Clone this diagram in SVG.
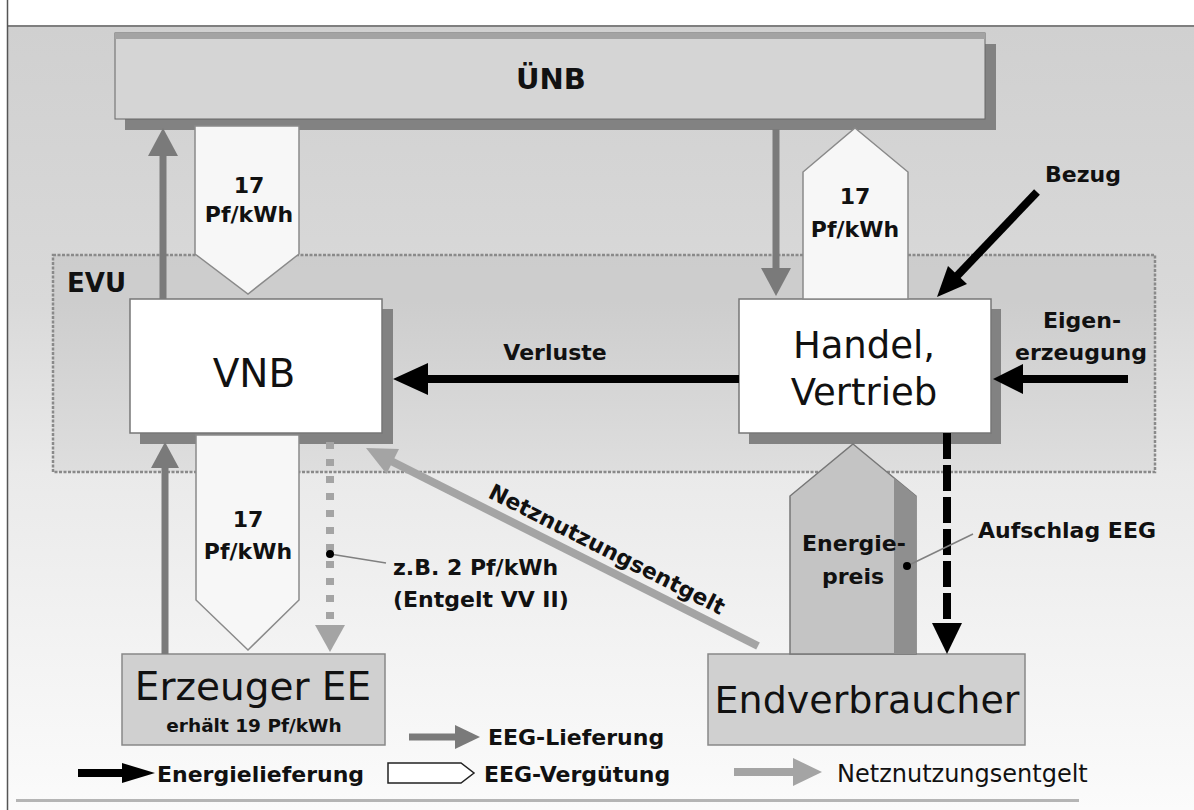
<svg xmlns="http://www.w3.org/2000/svg" width="1194" height="810" viewBox="0 0 1194 810">
<defs>
<linearGradient id="bg" x1="0" y1="27" x2="0" y2="810" gradientUnits="userSpaceOnUse">
<stop offset="0" stop-color="#d0d0d0"/>
<stop offset="0.35" stop-color="#d9d9d9"/>
<stop offset="0.57" stop-color="#eaeaea"/>
<stop offset="1" stop-color="#fbfbfb"/>
</linearGradient>
<style>
text{font-family:'DejaVu Sans','Liberation Sans',sans-serif;fill:#111}
.b{font-weight:bold}
.lbl{font-size:22px;font-weight:bold}
.mid{text-anchor:middle}
.shadow{fill:#828282}
.box{fill:#fff;stroke:#777;stroke-width:1.5}
.gbox{fill:#d0d0d0;stroke:#888;stroke-width:1.5}
.eeg{stroke:#7a7a7a;stroke-width:7;fill:none}
.eegh{fill:#7a7a7a}
.en{stroke:#000;stroke-width:8;fill:none}
.enh{fill:#000}
.nn{stroke:#a4a4a4;stroke-width:8;fill:none}
.nnh{fill:#a4a4a4}
.pent{fill:#f7f7f7;stroke:#8a8a8a;stroke-width:1.5}
.lead{stroke:#808080;stroke-width:1.5;fill:none}
</style>
</defs>
<rect width="1194" height="810" fill="#fff"/>
<rect x="8" y="27" width="1186" height="783" fill="url(#bg)"/>
<line x1="7.5" y1="0" x2="7.5" y2="810" stroke="#555" stroke-width="1.5"/>
<line x1="7" y1="26" x2="1194" y2="26" stroke="#555" stroke-width="1.5"/>
<line x1="16" y1="800.5" x2="1079" y2="800.5" stroke="#b5b5b5" stroke-width="3"/>

<g id="evu">
<rect x="53" y="255" width="1102" height="217" fill="#000" fill-opacity="0.05" stroke="#8a8a8a" stroke-width="2.5" stroke-dasharray="3 1.5"/>
<text x="67" y="292" class="b" font-size="26">EVU</text>
</g>

<g id="uenb">
<rect x="125" y="44" width="871" height="86" class="shadow"/>
<rect x="115" y="33" width="870" height="86" fill="#d5d5d5" stroke="#666" stroke-width="1"/>
<rect x="115" y="33" width="870" height="6" fill="#a3a3a3"/>
<text x="551" y="89" class="b mid" font-size="29">ÜNB</text>
</g>

<g id="vnb">
<rect x="140" y="309" width="253" height="135" class="shadow"/>
<rect x="130" y="299" width="252" height="134" class="box"/>
<text x="254" y="387" class="mid" font-size="39">VNB</text>
</g>

<g id="handel">
<rect x="749" y="309" width="252" height="135" class="shadow"/>
<rect x="739" y="299" width="252" height="134" class="box"/>
<text x="864" y="358" class="mid" font-size="37">Handel,</text>
<text x="864" y="405" class="mid" font-size="37">Vertrieb</text>
</g>

<g id="erzeuger">
<rect x="122" y="654" width="263" height="91" class="gbox"/>
<text x="253" y="700" class="mid" font-size="39">Erzeuger EE</text>
<text x="254" y="732" class="mid b" font-size="18.5">erhält 19 Pf/kWh</text>
</g>

<g id="endverbraucher">
<rect x="708" y="654" width="317" height="91" class="gbox"/>
<text x="867" y="713" class="mid" font-size="38">Endverbraucher</text>
</g>

<g id="connectors">
<!-- EEG-Vergütung pentagons -->
<polygon points="195,126 299,126 299,254 248,294 195,254" class="pent"/>
<text x="249" y="193" class="lbl mid">17</text>
<text x="249" y="222" class="lbl mid">Pf/kWh</text>
<polygon points="855,128 908,172 908,299 803,299 803,172" class="pent"/>
<text x="855" y="204" class="lbl mid">17</text>
<text x="855" y="237" class="lbl mid">Pf/kWh</text>
<polygon points="196,435 299,435 299,600 248,650 196,600" class="pent"/>
<text x="248" y="527" class="lbl mid">17</text>
<text x="248" y="559" class="lbl mid">Pf/kWh</text>

<!-- Energiepreis -->
<polygon points="853,444 916,496 916,654 790,654 790,496" fill="#c4c4c4" stroke="#777" stroke-width="1.5"/>
<polygon points="894,478 916,496 916,654 894,654" fill="#8f8f8f"/>
<text x="854" y="551" class="lbl mid">Energie-</text>
<text x="853" y="584" class="lbl mid">preis</text>

<!-- EEG-Lieferung -->
<line x1="163" y1="299" x2="163" y2="150" class="eeg"/>
<polygon points="163,128 148,156 178,156" class="eegh"/>
<line x1="776" y1="129" x2="776" y2="270" class="eeg"/>
<polygon points="776,296 761,268 791,268" class="eegh"/>
<line x1="165" y1="654" x2="165" y2="464" class="eeg"/>
<polygon points="165,442 151,468 179,468" class="eegh"/>

<!-- Energielieferung -->
<line x1="739" y1="379" x2="425" y2="379" class="en"/>
<polygon points="393,379 428,363 428,395" class="enh"/>
<text x="555" y="360" class="lbl mid">Verluste</text>
<line x1="1128" y1="379" x2="1020" y2="379" class="en"/>
<polygon points="993,379 1023,364 1023,394" class="enh"/>
<text x="1082" y="328" class="lbl mid">Eigen-</text>
<text x="1081" y="360" class="lbl mid">erzeugung</text>
<line x1="1037" y1="192" x2="956" y2="277" class="en"/>
<polygon points="937,297 967,284 948,266" class="enh"/>
<text x="1083" y="182" class="lbl mid">Bezug</text>
<line x1="947" y1="433" x2="947" y2="625" class="en" stroke-dasharray="26 6"/>
<polygon points="947,654 932,623 962,623" class="enh"/>
<line x1="907" y1="566" x2="973" y2="534" class="lead"/>
<circle cx="907" cy="566" r="4" fill="#000"/>
<text x="978" y="538" class="lbl">Aufschlag EEG</text>

<!-- Netznutzungsentgelt -->
<line x1="330" y1="442" x2="330" y2="625" class="nn" stroke-dasharray="7 10"/>
<polygon points="330,652 315,625 345,625" class="nnh"/>
<line x1="330" y1="554" x2="386" y2="563" class="lead"/>
<circle cx="330" cy="554" r="4" fill="#000"/>
<text x="393" y="575" class="lbl">z.B. 2 Pf/kWh</text>
<text x="393" y="607" class="lbl">(Entgelt VV II)</text>
<line x1="758" y1="646" x2="391" y2="461" class="nn"/>
<polygon points="366,448 399,449 386.5,474" class="nnh"/>
<text transform="translate(487,497) rotate(26.9)" class="lbl">Netznutzungsentgelt</text>
</g>

<g id="legend">
<line x1="409" y1="737" x2="457" y2="737" class="eeg" stroke-width="8"/>
<polygon points="480,737 455,725 455,749" class="eegh"/>
<text x="488" y="745" class="lbl">EEG-Lieferung</text>
<line x1="78" y1="773" x2="125" y2="773" class="en" stroke-width="7"/>
<polygon points="155,773 122,763 122,783" class="enh"/>
<text x="157" y="782" class="lbl">Energielieferung</text>
<polygon points="388,763 461,763 474,773 461,783 388,783" fill="#fff" stroke="#222" stroke-width="1.5"/>
<text x="484" y="782" class="lbl">EEG-Vergütung</text>
<line x1="734" y1="772" x2="795" y2="772" class="nn" stroke-width="7"/>
<polygon points="822,772 793,758 793,786" class="nnh"/>
<text x="837" y="782" font-size="24">Netznutzungsentgelt</text>
</g>
</svg>
